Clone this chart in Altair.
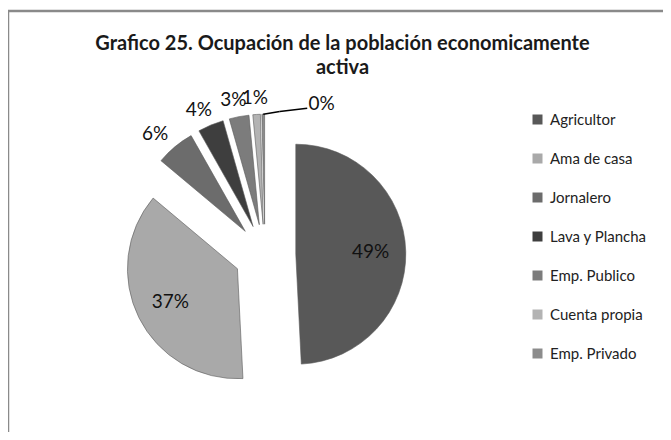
import altair as alt
import pandas as pd

# ---- data ----
categories = ["Agricultor", "Ama de casa", "Jornalero", "Lava y Plancha",
              "Emp. Publico", "Cuenta propia", "Emp. Privado"]
values = [49.2, 36.9, 5.7, 3.8, 2.9, 1.1, 0.4]
title_lines = ["Grafico 25. Ocupación de la población economicamente", "activa"]

# ---- styles ----
colors = ["#585858", "#a9a9a9", "#6c6c6c", "#3e3e3e", "#7c7c7c", "#b3b3b3", "#8c8c8c"]
FONT = "Lato"

df = pd.DataFrame({"category": categories, "value": values, "order": list(range(len(values)))})

R = 110          # pie radius in px
EXPLODE = 0.28   # explosion distance (in radius units)

xs = alt.Scale(domain=[-1, 1], range=[257 - R, 257 + R])
ys = alt.Scale(domain=[-1, 1], range=[247 + R, 247 - R])

base = (
    alt.Chart(df)
    .transform_joinaggregate(total="sum(value)")
    .transform_window(cum="sum(value)", sort=[alt.SortField("order")], frame=[None, 0])
    .transform_calculate(
        pct="datum.value / datum.total",
        t0="2 * PI * (datum.cum - datum.value) / datum.total",
        t1="2 * PI * datum.cum / datum.total",
    )
    .transform_calculate(mid="(datum.t0 + datum.t1) / 2")
    .transform_calculate(
        cx=f"{EXPLODE} * sin(datum.mid)",
        cy=f"{EXPLODE} * cos(datum.mid)",
    )
    .transform_calculate(
        tipx="datum.cx + sin(datum.mid)",
        tipy="datum.cy + cos(datum.mid)",
    )
    .transform_calculate(
        lx="datum.pct > 0.2 ? datum.cx + 0.68 * sin(datum.mid) : "
           "(datum.pct < 0.005 ? datum.tipx + 0.53 : datum.cx + 1.08 * sin(datum.mid) + 0.2 * sin(datum.mid))",
        ly="datum.pct > 0.2 ? datum.cy + 0.68 * cos(datum.mid) : "
           "(datum.pct < 0.005 ? datum.tipy + 0.09 : datum.cy + 1.08 * cos(datum.mid) + 0.07 * cos(datum.mid))",
        label="format(datum.pct, '.0%')",
        ex1="datum.tipx + 0.15",
        ey1="datum.tipy + 0.025",
        ex2="datum.tipx + 0.4",
        ey2="datum.tipy + 0.055",
    )
)

arcs = base.mark_arc(radius=R, stroke="#5a5a5a", strokeWidth=0.6).encode(
    x=alt.X("cx:Q", scale=xs, axis=None),
    y=alt.Y("cy:Q", scale=ys, axis=None),
    theta=alt.Theta("t0:Q", scale=None, stack=None),
    theta2="t1:Q",
    color=alt.Color(
        "category:N",
        scale=alt.Scale(domain=categories, range=colors),
        sort=categories,
        title=None,
        legend=alt.Legend(
            orient="none", legendX=522, legendY=104,
            symbolType="square", symbolSize=100, symbolStrokeWidth=0,
            labelFont=FONT, labelFontSize=15, labelColor="#222222",
            rowPadding=23, labelOffset=5,
        ),
    ),
    order=alt.Order("order:Q"),
)

labels = base.mark_text(font=FONT, fontSize=19, color="#111111", align="center",
                        baseline="middle").encode(
    x=alt.X("lx:Q", scale=xs, axis=None),
    y=alt.Y("ly:Q", scale=ys, axis=None),
    text="label:N",
)

leader1 = base.transform_filter("datum.pct < 0.005").mark_rule(color="#000000", strokeWidth=1.5).encode(
    x=alt.X("tipx:Q", scale=xs, axis=None),
    y=alt.Y("tipy:Q", scale=ys, axis=None),
    x2="ex1:Q",
    y2="ey1:Q",
)
leader2 = base.transform_filter("datum.pct < 0.005").mark_rule(color="#000000", strokeWidth=1.5).encode(
    x=alt.X("ex1:Q", scale=xs, axis=None),
    y=alt.Y("ey1:Q", scale=ys, axis=None),
    x2="ex2:Q",
    y2="ey2:Q",
)

frame_data = alt.Data(values=[{"edge": "frame"}])
frame_top = alt.Chart(frame_data).mark_rule(color="#8a8a8a", strokeWidth=2.5).encode(
    x=alt.value(0), x2=alt.value(655), y=alt.value(3)
)
frame_left = alt.Chart(frame_data).mark_rule(color="#8a8a8a", strokeWidth=2.5).encode(
    x=alt.value(0), y=alt.value(3), y2=alt.value(424)
)

chart = (
    alt.layer(arcs, labels, leader1, leader2, frame_top, frame_left)
    .properties(
        width=655,
        height=424,
        autosize=alt.AutoSizeParams(type="none"),
        padding=0,
        title=alt.TitleParams(
            text=title_lines, font=FONT, fontSize=20, fontWeight="bold",
            color="#1a1a1a", anchor="middle", frame="group", dx=7,
            lineHeight=24, offset=-70,
        ),
        background="white",
    )
    .configure_view(strokeWidth=0)
)

chart.save("out.html", embed_options={"renderer": "svg", "actions": False})
